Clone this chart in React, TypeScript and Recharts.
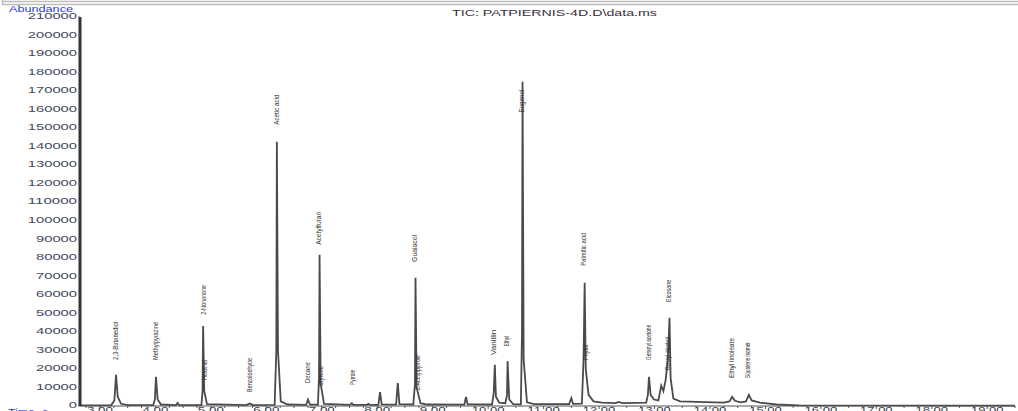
import React from "react";
import {
  ComposedChart,
  Line,
  Scatter,
  XAxis,
  YAxis,
} from "recharts";

// time (min), abundance
const traceTimes = [
  2.64, 3.2, 3.26, 3.29, 3.32, 3.38, 3.5,
  3.96, 3.99, 4.01, 4.04, 4.1,
  4.37, 4.4, 4.43,
  4.83, 4.85, 4.86, 4.88, 4.93,
  5.64, 5.7, 5.76,
  6.15, 6.18, 6.19, 6.21, 6.26, 6.38,
  6.72, 6.75, 6.79,
  6.93, 6.95, 6.96, 6.98, 7.04,
  7.51, 7.54, 7.57,
  7.81, 7.84, 7.87,
  8.02, 8.05, 8.08,
  8.34, 8.37, 8.4,
  8.65, 8.68, 8.69, 8.71, 8.78, 8.9,
  9.57, 9.6, 9.63,
  10.07, 10.1, 10.12, 10.14, 10.2, 10.31, 10.34, 10.35, 10.38, 10.45,
  10.59, 10.61, 10.62, 10.64, 10.7, 10.83,
  11.46, 11.5, 11.53,
  11.69, 11.72, 11.74, 11.76, 11.81, 11.9, 12.05,
  12.3, 12.35, 12.42,
  12.85, 12.88, 12.9, 12.93, 12.99, 13.07,
  13.12, 13.16, 13.2, 13.24, 13.27, 13.29, 13.34, 13.46,
  14.25, 14.35, 14.4, 14.45, 14.55, 14.65, 14.7, 14.75, 14.9, 15.2, 15.6, 19.5,
];

const traceAbundance = [
  300, 350, 3000, 16800, 5000, 1200, 500,
  450, 3500, 15700, 3500, 800,
  500, 1600, 500,
  500, 8000, 43200, 8000, 1000,
  500, 1400, 500,
  600, 30000, 142700, 30000, 2500, 800,
  600, 3500, 700,
  700, 15000, 81600, 12000, 1200,
  600, 1500, 600,
  600, 1200, 600,
  600, 7500, 900,
  700, 12400, 1000,
  800, 12000, 69200, 10000, 1500, 800,
  700, 4900, 900,
  800, 7000, 22200, 5000, 1800, 1500, 6000, 24300, 3500, 1000,
  900, 40000, 175000, 25000, 2000, 1000,
  1000, 4300, 1200,
  1300, 25000, 66500, 20000, 6000, 2500, 1800,
  1600, 2200, 1600,
  1800, 6000, 15700, 6000, 3500, 3000,
  11000, 8000, 14000, 25000, 47600, 15000, 4000, 2500,
  1800, 2500, 4900, 2800, 2000, 2500, 6000, 3000, 1800, 800, 300, 200,
];

// peak annotations: retention time, abundance where the text starts, name, drawn length
const labelTimes = [3.29, 4.01, 4.87, 4.89, 5.7, 6.19, 6.75, 6.98, 6.96, 7.56, 8.69, 8.73, 10.1, 10.35, 10.62, 11.74, 11.76, 12.9, 13.27, 13.24, 14.4, 14.69];
const labelAbundance = [24900, 24900, 49200, 14100, 7600, 151900, 12400, 10800, 87000, 11400, 77800, 8600, 27600, 32400, 158400, 75700, 24900, 24900, 56200, 19500, 15100, 15100];
const labelNames = [
  "2,3-Butanediol",
  "Methylpyrazine",
  "2-Nonanone",
  "Hexanal",
  "Benzaldehyde",
  "Acetic acid",
  "Decane",
  "Styrene",
  "Acetylfuran",
  "Pyrrole",
  "Guaiacol",
  "2-Acetylpyrrole",
  "Vanillin",
  "Ethyl",
  "Eugenol",
  "Palmitic acid",
  "Phytol",
  "Geranyl acetone",
  "Eicosane",
  "Benzyl alcohol",
  "Ethyl linoleate",
  "Squalene isomer",
];
const labelLengths = [38, 38, 30, 20, 34, 30, 21, 20, 33, 15, 27, 35, 25, 10, 23, 33, 15, 35, 22, 33, 40, 36];

const yTicks = [
  0, 10000, 20000, 30000, 40000, 50000, 60000, 70000, 80000, 90000, 100000,
  110000, 120000, 130000, 140000, 150000, 160000, 170000, 180000, 190000,
  200000, 210000,
];
const xMajorTicks = [3, 4, 5, 6, 7, 8, 9, 10, 11, 12, 13, 14, 15, 16, 17, 18, 19];

const traceData = traceTimes.map((t, i) => ({ t, v: traceAbundance[i] }));
const labelData = labelTimes.map((t, i) => ({
  t,
  v: labelAbundance[i],
  name: labelNames[i],
  len: labelLengths[i],
}));

const xTicks: number[] = [];
xMajorTicks.forEach((m) => {
  [0, 0.25, 0.5, 0.75].forEach((f) => xTicks.push(+(m + f).toFixed(2)));
});
xTicks.unshift(2.75);

const FONT = "Liberation Sans, Arial, sans-serif";

const PeakLabel = (props: any) => {
  const { cx, cy, payload } = props;
  if (cx == null || cy == null) return null;
  return (
    <text
      x={cx}
      y={cy}
      transform={`rotate(-90 ${cx} ${cy})`}
      dominantBaseline="middle"
      textLength={payload.len}
      lengthAdjust="spacingAndGlyphs"
      fontSize={7}
      fill="#333"
      fontFamily={FONT}
    >
      {payload.name}
    </text>
  );
};

const XTick = (props: any) => {
  const { x, y, payload } = props;
  const val = payload.value as number;
  const major = Number.isInteger(val);
  const s = val.toFixed(2);
  return (
    <g>
      <line x1={x} y1={y} x2={x} y2={y + (major ? 3 : 2)} stroke="#555" strokeWidth={1} />
      {major && (
        <text
          x={x}
          y={y + 1}
          textAnchor="middle"
          dominantBaseline="hanging"
          fontSize={9}
          textLength={s.length * 6.5}
          lengthAdjust="spacingAndGlyphs"
          fill="#3a4150"
          fontFamily={FONT}
        >
          {s}
        </text>
      )}
    </g>
  );
};

const YTick = (props: any) => {
  const { x, y, payload } = props;
  const s = String(payload.value);
  return (
    <text
      x={x}
      y={y}
      textAnchor="end"
      dominantBaseline="middle"
      fontSize={8.5}
      textLength={s.length * 8.2}
      lengthAdjust="spacingAndGlyphs"
      fill="#444b5c"
      fontFamily={FONT}
    >
      {s}
    </text>
  );
};

export default function App() {
  return (
    <div
      style={{
        position: "absolute",
        left: 0,
        top: 0,
        width: 1018,
        height: 411,
        overflow: "hidden",
        background: "#fff",
        fontFamily: FONT,
      }}
    >
      <svg width={1018} height={411} style={{ position: "absolute", left: 0, top: 0 }}>
        <line x1={2} y1={1.5} x2={1018} y2={1.5} stroke="#bdbdbd" strokeWidth={1.5} />
        <line x1={2} y1={4.5} x2={1018} y2={4.5} stroke="#bdbdbd" strokeWidth={1.5} />
        <line x1={2.5} y1={0} x2={2.5} y2={5} stroke="#bdbdbd" strokeWidth={1.5} />
        <text x={9} y={12} fontSize={8.5} textLength={64} lengthAdjust="spacingAndGlyphs" fill="#2b3bd6" fontFamily={FONT}>
          Abundance
        </text>
        <text x={452} y={16} fontSize={9} textLength={205} lengthAdjust="spacingAndGlyphs" fill="#3a3040" fontFamily={FONT}>
          TIC: PATPIERNIS-4D.D\data.ms
        </text>
        <text x={8} y={415} fontSize={9} textLength={42} lengthAdjust="spacingAndGlyphs" fill="#2b3bd6" fontFamily={FONT}>
          Time--&gt;
        </text>
      </svg>
      <ComposedChart
        width={1018}
        height={411}
        margin={{ top: 17, right: 3, bottom: 0, left: 0 }}
        style={{ position: "absolute", left: 0, top: 0 }}
      >
        <XAxis
          dataKey="t"
          type="number"
          domain={[2.64, 19.5]}
          allowDataOverflow
          ticks={xTicks}
          interval={0}
          height={5}
          tickSize={0}
          tickMargin={0}
          tickLine={false}
          tick={<XTick />}
          axisLine={{ stroke: "#555", strokeWidth: 1 }}
        />
        <YAxis
          dataKey="v"
          type="number"
          domain={[0, 210000]}
          ticks={yTicks}
          interval={0}
          width={80}
          tickSize={2}
          tickMargin={1}
          tickLine={{ stroke: "#666" }}
          axisLine={{ stroke: "#333", strokeWidth: 3 }}
          tick={<YTick />}
        />
        <Line
          data={traceData}
          dataKey="v"
          type="linear"
          stroke="#4a4a4a"
          strokeWidth={1.8}
          dot={false}
          isAnimationActive={false}
        />
        <Scatter
          data={labelData}
          dataKey="v"
          shape={<PeakLabel />}
          isAnimationActive={false}
        />
      </ComposedChart>
    </div>
  );
}
